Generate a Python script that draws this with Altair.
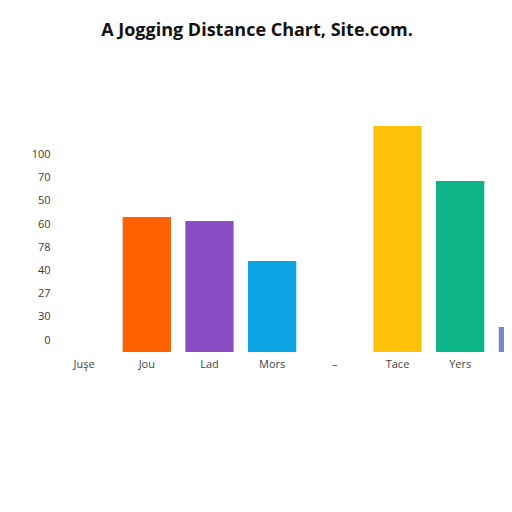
import altair as alt
import pandas as pd

categories = ["Juşe", "Jou", "Lad", "Mors", "–", "Tace", "Yers", " "]
values = [0, 72.7, 70.6, 49.0, 0, 121.8, 92.1, 13.5]
colors = ["#ffffff", "#FF6200", "#8A4DC6", "#0CA3E2", "#ffffff", "#FFC20A", "#0DB487", "#7B88C6"]
tick_values = [0, 12.5, 25, 37.5, 50, 62.5, 75, 87.5, 100]
tick_labels = ["0", "30", "27", "40", "78", "60", "50", "70", "100"]
title_text = "A Jogging Distance Chart, Site.com."

df = pd.DataFrame({"cat": categories, "val": values})
label_expr = "[" + ",".join(f"'{t}'" for t in tick_labels) + "][round(datum.value / 12.5)]"

chart = alt.Chart(df).mark_bar().encode(
    x=alt.X(
        "cat:N",
        sort=categories,
        scale=alt.Scale(domain=categories, range=[0, 487], paddingInner=0.23, paddingOuter=0),
        axis=alt.Axis(title=None, labelAngle=0, ticks=False, domain=False, labelPadding=6,
                      labelFontSize=11, labelColor="#444444", labelFont="Open Sans"),
    ),
    y=alt.Y(
        "val:Q",
        scale=alt.Scale(domain=[0, 125], nice=False),
        axis=alt.Axis(title=None, values=tick_values, labelExpr=label_expr, ticks=False,
                      domain=False, grid=False, labelOffset=-12, labelPadding=10,
                      labelFontSize=11, labelColor="#3a3a3a", labelFont="Open Sans"),
    ),
    color=alt.Color("cat:N", scale=alt.Scale(domain=categories, range=colors), legend=None),
).properties(
    width=444,
    height=232,
    background="white",
    title=alt.Title(title_text, fontSize=18, fontWeight="bold", font="Open Sans",
                    color="#111111", offset=80, dx=-25),
    autosize=alt.AutoSizeParams(type="none"),
    padding={"left": 52, "top": 112, "right": 0, "bottom": 140},
).configure_view(stroke="transparent", strokeWidth=0)

chart.save("out.html", embed_options={"renderer": "svg", "actions": False})
